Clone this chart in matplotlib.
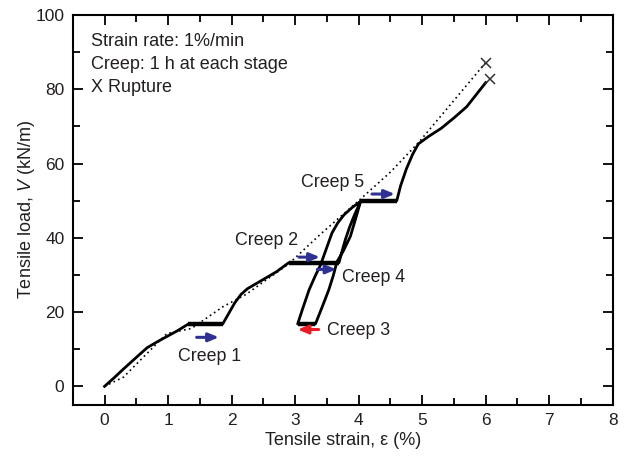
import matplotlib.pyplot as plt
from matplotlib.ticker import MultipleLocator

plt.rcParams['font.family'] = ['Liberation Sans', 'DejaVu Sans']
plt.rcParams['mathtext.fontset'] = 'custom'
plt.rcParams['mathtext.it'] = 'Liberation Sans:italic'

strain = [0, 0.15, 0.3, 0.5, 0.67, 0.85, 1.0, 1.15, 1.32,
          1.86, 1.95, 2.05, 2.15, 2.25, 2.44, 2.7, 2.9,
          3.69, 3.74, 3.79, 3.86, 3.93, 4.03,
          3.95, 3.87, 3.76, 3.66, 3.6, 3.53, 3.44, 3.32,
          3.04, 3.12, 3.22, 3.31, 3.4, 3.49, 3.58, 3.67, 3.77, 3.9, 4.03,
          4.6, 4.66, 4.75, 4.85, 4.94, 5.1, 5.3, 5.5, 5.7, 6.0]
load = [0, 2.3, 4.7, 7.8, 10.4, 12.2, 13.6, 15.0, 16.8,
        16.8, 19.5, 22.5, 24.8, 26.3, 28.2, 30.8, 33.3,
        33.3, 36.5, 39.5, 43.0, 46.0, 49.8,
        45.0, 40.4, 36.5, 33.6, 29.8, 26.0, 22.0, 16.8,
        16.8, 21.0, 26.0, 29.5, 32.7, 37.0, 41.3, 44.0, 46.2, 48.2, 49.8,
        50.0, 54.0, 58.5, 62.5, 65.3, 67.3, 69.5, 72.3, 75.3, 81.8]

# creep stages drawn heavier
creep_x = [[1.32, 1.86], [2.9, 3.69], [3.04, 3.32], [4.03, 4.6]]
creep_y = [[16.8, 16.8], [33.3, 33.3], [16.8, 16.8], [50.0, 50.0]]

# reference curve (dotted)
ref_strain = [0, 0.3, 0.56, 0.98, 1.37, 1.86, 2.23, 2.9, 3.4, 4.0, 4.5, 4.94, 6.0]
ref_load = [0, 2.5, 7.0, 14.2, 15.6, 21.4, 24.8, 33.0, 41.0, 50.0, 57.7, 65.6, 87.2]

rupture_x = [6.0, 6.07]
rupture_y = [87.2, 82.9]

creep_labels = ['Creep 1', 'Creep 2', 'Creep 3', 'Creep 4', 'Creep 5']
label_x = [1.15, 2.05, 3.5, 3.74, 3.1]
label_y = [8.1, 39.2, 15.1, 29.3, 54.8]

arrow_start = [(1.45, 13.2), (3.06, 34.8), (3.37, 15.3), (3.35, 31.5), (4.21, 51.8)]
arrow_end = [(1.8, 13.2), (3.39, 34.8), (3.04, 15.3), (3.65, 31.5), (4.57, 51.8)]
arrow_color = ['#2e3192', '#2e3192', '#ed1c24', '#2e3192', '#2e3192']

fig = plt.figure(figsize=(6.33, 4.57), dpi=100)
ax = fig.add_axes([0.115, 0.114, 0.853, 0.853])

ax.plot(ref_strain, ref_load, color='black', linestyle=(0, (1, 2)), lw=1.2)
ax.plot(strain, load, color='black', lw=2.0)
for cx, cy in zip(creep_x, creep_y):
    ax.plot(cx, cy, color='black', lw=3.2, solid_capstyle='butt')
ax.plot(rupture_x, rupture_y, 'x', color='#333333', ms=7, mew=1.1)

for s, e, c in zip(arrow_start, arrow_end, arrow_color):
    ax.annotate('', xy=e, xytext=s,
                arrowprops=dict(arrowstyle='-|>,head_length=0.6,head_width=0.25',
                                color=c, lw=2.2, shrinkA=0, shrinkB=0))

for t, x, y in zip(creep_labels, label_x, label_y):
    ax.text(x, y, t, fontsize=12.8, color='#231f20', va='center', ha='left')

ax.text(-0.22, 92.8, 'Strain rate: 1%/min', fontsize=13, va='center', color='#231f20')
ax.text(-0.22, 86.8, 'Creep: 1 h at each stage', fontsize=13, va='center', color='#231f20')
ax.text(-0.22, 80.5, 'X Rupture', fontsize=13, va='center', color='#231f20')

ax.set_xlim(-0.5, 8)
ax.set_ylim(-5, 100)
ax.xaxis.set_major_locator(MultipleLocator(1))
ax.xaxis.set_minor_locator(MultipleLocator(0.5))
ax.yaxis.set_major_locator(MultipleLocator(20))
ax.yaxis.set_minor_locator(MultipleLocator(10))
ax.tick_params(which='major', direction='in', top=True, right=True, length=7, width=1.3,
               labelsize=12.5, labelcolor='#231f20', pad=6)
ax.tick_params(which='minor', direction='in', top=True, right=True, length=5, width=1.3)
for sp in ax.spines.values():
    sp.set_linewidth(1.5)

ax.set_xlabel('Tensile strain, ε (%)', fontsize=13, color='#231f20', labelpad=3)
ax.set_ylabel('Tensile load, $V$ (kN/m)', fontsize=13, color='#231f20', labelpad=-1)

fig.savefig('out.png', dpi=100)
